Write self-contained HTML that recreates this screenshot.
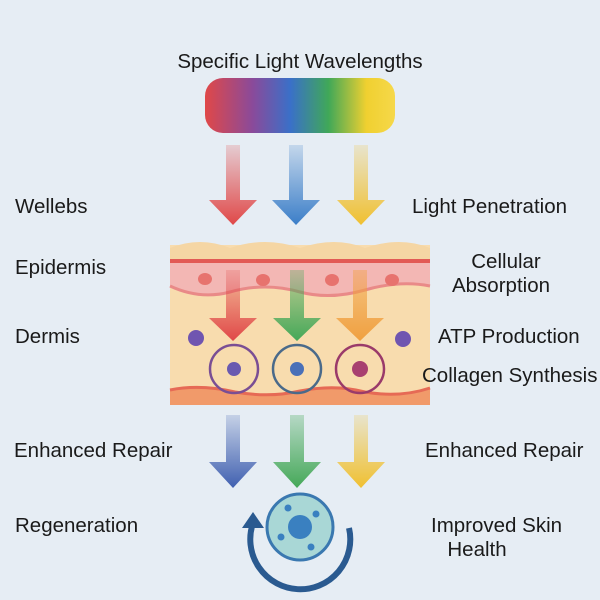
<!DOCTYPE html>
<html><head><style>body{margin:0;background:#e6edf4}svg{display:block}text{font-family:"Liberation Sans",sans-serif;font-size:20.5px;fill:#1a1a1a}</style></head><body>
<svg width="600" height="600" viewBox="0 0 600 600">
<defs>
<linearGradient id="sp" x1="0" x2="1"><stop offset="0" stop-color="#e04848"/><stop offset=".25" stop-color="#8a4a9a"/><stop offset=".45" stop-color="#3a70c8"/><stop offset=".65" stop-color="#40a858"/><stop offset=".85" stop-color="#f0d030"/><stop offset="1" stop-color="#f6d84a"/></linearGradient>
<linearGradient id="r" x1="0" y1="0" x2="0" y2="1"><stop offset="0" stop-color="#e04848" stop-opacity=".2"/><stop offset="1" stop-color="#e04848"/></linearGradient>
<linearGradient id="b" x1="0" y1="0" x2="0" y2="1"><stop offset="0" stop-color="#3b7ec8" stop-opacity=".2"/><stop offset="1" stop-color="#3b7ec8"/></linearGradient>
<linearGradient id="y" x1="0" y1="0" x2="0" y2="1"><stop offset="0" stop-color="#f0c030" stop-opacity=".2"/><stop offset="1" stop-color="#f0c030"/></linearGradient>
<linearGradient id="g" x1="0" y1="0" x2="0" y2="1"><stop offset="0" stop-color="#45a858" stop-opacity=".3"/><stop offset="1" stop-color="#45a858"/></linearGradient>
<linearGradient id="o" x1="0" y1="0" x2="0" y2="1"><stop offset="0" stop-color="#f0a040" stop-opacity=".4"/><stop offset="1" stop-color="#f0a040"/></linearGradient>
<linearGradient id="bb" x1="0" y1="0" x2="0" y2="1"><stop offset="0" stop-color="#4060b0" stop-opacity=".2"/><stop offset="1" stop-color="#4060b0"/></linearGradient>
</defs>
<text x="300" y="68" text-anchor="middle" font-size="22">Specific Light Wavelengths</text>
<rect x="205" y="78" width="190" height="55" rx="18" fill="url(#sp)"/>
<path d="M226 145h14v55h17l-24 25-24-25h17z" fill="url(#r)"/>
<path d="M289 145h14v55h17l-24 25-24-25h17z" fill="url(#b)"/>
<path d="M354 145h14v55h17l-24 25-24-25h17z" fill="url(#y)"/>
<rect x="170" y="245" width="260" height="160" fill="#f8dcae"/>
<path d="M170 260 V248 Q200 236 230 248 Q265 236 300 248 Q335 236 365 248 Q400 236 430 248 V260Z" fill="#f5d6a4"/>
<path d="M170 262 H430 V286 Q400 280 365 290 Q330 300 300 292 Q265 282 230 292 Q200 300 170 286Z" fill="#f3b7b4"/>
<path d="M170 286 Q200 300 230 292 Q265 282 300 292 Q330 300 365 290 Q400 280 430 286" fill="none" stroke="#e98a88" stroke-width="3"/>
<rect x="170" y="259" width="260" height="4" fill="#e25a55"/>
<g fill="#e7736e"><ellipse cx="205" cy="279" rx="7" ry="6"/><ellipse cx="263" cy="280" rx="7" ry="6"/><ellipse cx="332" cy="280" rx="7" ry="6"/><ellipse cx="392" cy="280" rx="7" ry="6"/></g>
<path d="M170 390 Q200 384 235 392 Q270 398 300 391 Q335 384 365 392 Q400 398 430 388 V405 H170Z" fill="#f19a6a"/>
<path d="M170 390 Q200 384 235 392 Q270 398 300 391 Q335 384 365 392 Q400 398 430 388" fill="none" stroke="#e66a55" stroke-width="3"/>
<path d="M226 270h14v48h17l-24 23-24-23h17z" fill="url(#r)"/>
<path d="M290 270h14v48h17l-24 23-24-23h17z" fill="url(#g)"/>
<path d="M353 270h14v48h17l-24 23-24-23h17z" fill="url(#o)"/>
<circle cx="196" cy="338" r="8" fill="#7055b0"/><circle cx="403" cy="339" r="8" fill="#7055b0"/>
<g fill="none" stroke-width="2.5"><circle cx="234" cy="369" r="24" stroke="#7a4e94"/><circle cx="297" cy="369" r="24" stroke="#4a6a8a"/><circle cx="360" cy="369" r="24" stroke="#9a3a6a"/></g>
<circle cx="234" cy="369" r="7" fill="#6a5ab0"/><circle cx="297" cy="369" r="7" fill="#4a70b8"/><circle cx="360" cy="369" r="8" fill="#a84070"/>
<path d="M226 415h14v47h17l-24 26-24-26h17z" fill="url(#bb)"/>
<path d="M290 415h14v47h17l-24 26-24-26h17z" fill="url(#g)"/>
<path d="M354 415h14v47h17l-24 26-24-26h17z" fill="url(#y)"/>
<path d="M253 523 A50 50 0 1 0 349 528" fill="none" stroke="#2a5a90" stroke-width="6"/>
<path d="M242 528 L253 512 L264 528Z" fill="#2a5a90"/>
<circle cx="300" cy="527" r="33" fill="#a9d7d6" stroke="#3a78b0" stroke-width="3"/>
<circle cx="300" cy="527" r="12" fill="#3a80c0"/>
<g fill="#3a80c0"><circle cx="288" cy="508" r="3.5"/><circle cx="316" cy="514" r="3.5"/><circle cx="281" cy="537" r="3.5"/><circle cx="311" cy="547" r="3.5"/></g>
<text x="15" y="213">Wellebs</text>
<text x="15" y="274">Epidermis</text>
<text x="15" y="343">Dermis</text>
<text x="14" y="457">Enhanced Repair</text>
<text x="15" y="532">Regeneration</text>
<text x="412" y="213">Light Penetration</text>
<text x="506" y="268" text-anchor="middle">Cellular</text>
<text x="501" y="292" text-anchor="middle">Absorption</text>
<text x="438" y="343">ATP Production</text>
<text x="422" y="382">Collagen Synthesis</text>
<text x="425" y="457">Enhanced Repair</text>
<text x="431" y="532">Improved Skin</text>
<text x="477" y="556" text-anchor="middle">Health</text>
</svg>
</body></html>
